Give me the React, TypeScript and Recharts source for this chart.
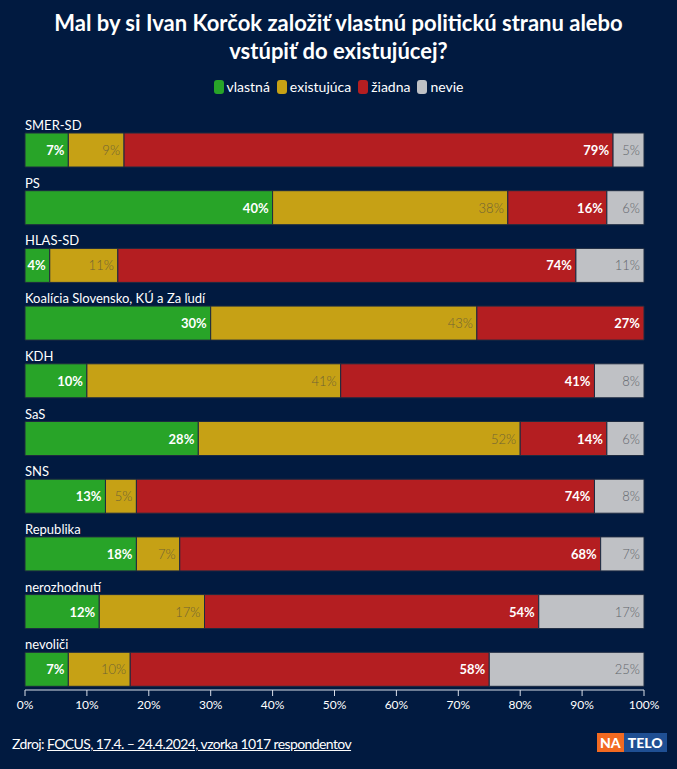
import React from 'react'
import { BarChart, Bar, XAxis, YAxis, LabelList } from 'recharts'

const categories = [
  'SMER-SD',
  'PS',
  'HLAS-SD',
  'Koalícia Slovensko, KÚ a Za ľudí',
  'KDH',
  'SaS',
  'SNS',
  'Republika',
  'nerozhodnutí',
  'nevoliči',
]
const vlastna = [7, 40, 4, 30, 10, 28, 13, 18, 12, 7]
const existujuca = [9, 38, 11, 43, 41, 52, 5, 7, 17, 10]
const ziadna = [79, 16, 74, 27, 41, 14, 74, 68, 54, 58]
const nevie = [5, 6, 11, 0, 8, 6, 8, 7, 17, 25]
const xTicks = [0, 10, 20, 30, 40, 50, 60, 70, 80, 90, 100]

const series = [
  { key: 'vlastna', name: 'vlastná', color: '#28a428', text: '#ffffff', bold: true },
  { key: 'existujuca', name: 'existujúca', color: '#c6a115', text: '#6f6336', bold: false },
  { key: 'ziadna', name: 'žiadna', color: '#b41e21', text: '#ffffff', bold: true },
  { key: 'nevie', name: 'nevie', color: '#bfc1c5', text: '#62666c', bold: false },
]

// the "lane" row only reserves room above each bar for the category name
const data = categories.map((name, i) => ({
  name,
  lane: 100,
  vlastna: vlastna[i],
  existujuca: existujuca[i],
  ziadna: ziadna[i],
  nevie: nevie[i],
}))

const font = 'Lato, "Noto Sans", sans-serif'

const NameLabel = (props: any) => {
  const { x, y, height, value } = props
  return (
    <text x={x} y={y + height + 1} fill="#ffffff" fontSize={13} fontFamily={font}>
      {value}
    </text>
  )
}

const makeValueLabel = (color: string, bold: boolean) => (props: any) => {
  const { x, y, width, height, value } = props
  if (!value) return null
  return (
    <text
      x={x + width - 4}
      y={y + height / 2}
      fill={color}
      fontSize={13}
      fontWeight={bold ? 700 : 300}
      fontFamily={font}
      textAnchor="end"
      dominantBaseline="central"
    >
      {value}%
    </text>
  )
}

export default function App() {
  return (
    <div
      style={{
        position: 'relative',
        width: 677,
        height: 769,
        background: '#011a40',
        fontFamily: font,
        overflow: 'hidden',
      }}
    >
      <style>{'body{margin:0}'}</style>
      <div
        style={{
          position: 'absolute',
          top: 9,
          left: 0,
          width: 677,
          textAlign: 'center',
          color: '#ffffff',
          fontWeight: 700,
          fontSize: 22,
          lineHeight: '28px',
        }}
      >
        Mal by si Ivan Korčok založiť vlastnú politickú stranu alebo
        <br />
        vstúpiť do existujúcej?
      </div>
      <div
        style={{
          position: 'absolute',
          top: 78,
          left: 0,
          width: 677,
          display: 'flex',
          justifyContent: 'center',
          gap: 7,
          color: '#ffffff',
          fontSize: 14,
        }}
      >
        {series.map((s) => (
          <span key={s.key} style={{ display: 'flex', alignItems: 'center' }}>
            <span
              style={{
                display: 'inline-block',
                width: 10,
                height: 14,
                borderRadius: 3,
                background: s.color,
                marginRight: 3,
              }}
            />
            {s.name}
          </span>
        ))}
      </div>
      <div style={{ position: 'absolute', top: 0, left: 0 }}>
        <BarChart
          width={677}
          height={730}
          data={data}
          layout="vertical"
          margin={{ top: 110, right: 33, left: 25, bottom: 10 }}
          barGap={4}
        >
          <XAxis
            type="number"
            domain={[0, 100]}
            ticks={xTicks}
            tickFormatter={(v) => `${v}%`}
            height={30}
            axisLine={{ stroke: '#d8dee8' }}
            tickLine={{ stroke: '#d8dee8' }}
            tickSize={6}
            tickMargin={4}
            tick={{ fill: '#ffffff', fontSize: 12, fontFamily: font }}
            interval={0}
          />
          <YAxis type="category" dataKey="name" hide padding={{ top: 0, bottom: 3 }} />
          <Bar dataKey="lane" stackId="lane" barSize={18} fill="transparent" isAnimationActive={false}>
            <LabelList dataKey="name" content={NameLabel} />
          </Bar>
          {series.map((s) => (
            <Bar
              key={s.key}
              dataKey={s.key}
              name={s.name}
              stackId="a"
              barSize={34}
              fill={s.color}
              stroke="#1d2a40"
              strokeWidth={1}
              isAnimationActive={false}
            >
              <LabelList dataKey={s.key} content={makeValueLabel(s.text, s.bold)} />
            </Bar>
          ))}
        </BarChart>
      </div>
      <div
        style={{
          position: 'absolute',
          top: 735,
          left: 12,
          color: '#ffffff',
          fontSize: 14,
          letterSpacing: -0.6,
        }}
      >
        Zdroj: <span style={{ textDecoration: 'underline' }}>FOCUS, 17.4. – 24.4.2024, vzorka 1017 respondentov</span>
      </div>
      <div
        style={{
          position: 'absolute',
          top: 733,
          left: 597,
          display: 'flex',
          fontWeight: 900,
          fontSize: 14,
          lineHeight: '19px',
          color: '#ffffff',
        }}
      >
        <span style={{ background: '#f26a21', padding: '0 3px' }}>NA</span>
        <span style={{ background: '#1f4f93', padding: '0 4px' }}>TELO</span>
      </div>
    </div>
  )
}
